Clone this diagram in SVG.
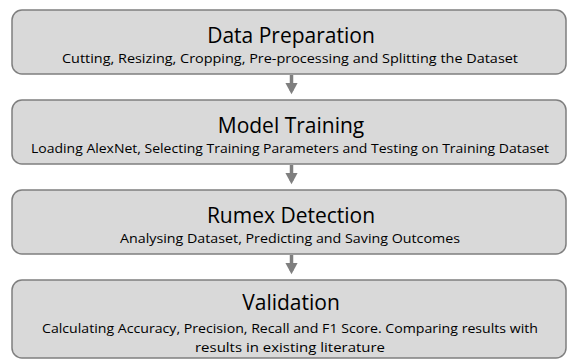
<svg xmlns="http://www.w3.org/2000/svg" width="567" height="361" viewBox="0 0 567 361">
<style>
.box{fill:#d9d9d9;stroke:#7f7f7f;stroke-width:1.5}
.t{font-family:"Open Sans","Liberation Sans",sans-serif;font-size:21px;fill:#000;text-anchor:middle}
.s{font-family:"Open Sans","Liberation Sans",sans-serif;font-size:13px;fill:#000;text-anchor:middle}
.c{stroke:#7f7f7f;stroke-width:3.5;fill:none}
</style>
<defs>
<marker id="ah" markerWidth="4" markerHeight="4" refX="2.4" refY="2" orient="auto" markerUnits="strokeWidth">
<path d="M0,0.2 L3.3,2 L0,3.8 Z" fill="#7f7f7f"/>
</marker>
</defs>
<rect width="567" height="361" fill="#fff"/>
<g id="connectors">
<line class="c" x1="291.5" y1="75" x2="291.5" y2="91" marker-end="url(#ah)"/>
<line class="c" x1="291.5" y1="165" x2="291.5" y2="181" marker-end="url(#ah)"/>
<line class="c" x1="291.5" y1="255" x2="291.5" y2="271" marker-end="url(#ah)"/>
</g>
<g id="data-preparation">
<rect class="box" x="12" y="10" width="554" height="64" rx="10"/>
<text class="t" x="291" y="43">Data Preparation</text>
<text class="s" x="290" y="63" textLength="456" lengthAdjust="spacingAndGlyphs">Cutting, Resizing, Cropping, Pre-processing and Splitting the Dataset</text>
</g>
<g id="model-training">
<rect class="box" x="12" y="100" width="554" height="64" rx="10"/>
<text class="t" x="291" y="133">Model Training</text>
<text class="s" x="290" y="153" textLength="518" lengthAdjust="spacingAndGlyphs">Loading AlexNet, Selecting Training Parameters and Testing on Training Dataset</text>
</g>
<g id="rumex-detection">
<rect class="box" x="12" y="190" width="554" height="64" rx="10"/>
<text class="t" x="291" y="223">Rumex Detection</text>
<text class="s" x="290" y="243" textLength="340" lengthAdjust="spacingAndGlyphs">Analysing Dataset, Predicting and Saving Outcomes</text>
</g>
<g id="validation">
<rect class="box" x="12" y="280" width="554" height="78" rx="10"/>
<text class="t" x="291" y="310">Validation</text>
<text class="s" x="290" y="333" textLength="496" lengthAdjust="spacingAndGlyphs">Calculating Accuracy, Precision, Recall and F1 Score. Comparing results with</text>
<text class="s" x="290" y="352" textLength="190" lengthAdjust="spacingAndGlyphs">results in existing literature</text>
</g>
</svg>
